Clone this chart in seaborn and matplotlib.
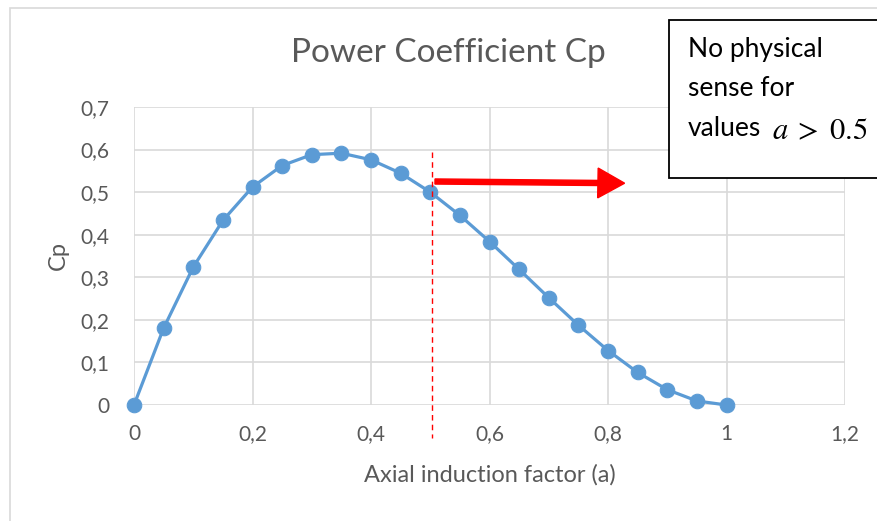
import matplotlib
matplotlib.use("Agg")
import matplotlib.pyplot as plt
from matplotlib.patches import Rectangle, FancyArrow
import seaborn as sns
import pandas as pd

# Axial induction factor and the corresponding power coefficient
a_values = [0.0, 0.05, 0.10, 0.15, 0.20, 0.25, 0.30, 0.35, 0.40, 0.45, 0.50,
            0.55, 0.60, 0.65, 0.70, 0.75, 0.80, 0.85, 0.90, 0.95, 1.0]
cp_values = [0.0, 0.1805, 0.324, 0.4335, 0.512, 0.5625, 0.588, 0.5915, 0.576,
             0.5445, 0.500, 0.4455, 0.384, 0.3185, 0.252, 0.1875, 0.128,
             0.0765, 0.036, 0.0095, 0.0]
x_ticks = [0, 0.2, 0.4, 0.6, 0.8, 1.0, 1.2]
x_tick_labels = ["0", "0,2", "0,4", "0,6", "0,8", "1", "1,2"]
y_ticks = [0, 0.1, 0.2, 0.3, 0.4, 0.5, 0.6, 0.7]
y_tick_labels = ["0", "0,1", "0,2", "0,3", "0,4", "0,5", "0,6", "0,7"]
limit_a = 0.503

sns.set_theme(style="white")
plt.rcParams["font.family"] = ["Lato", "DejaVu Sans"]
plt.rcParams["mathtext.fontset"] = "stix"

df = pd.DataFrame({"a": a_values, "Cp": cp_values})

fig = plt.figure(figsize=(8.77, 5.21), dpi=100)
ax = fig.add_axes([134 / 877, 1 - 405 / 521, (845 - 134) / 877, (405 - 107) / 521])

# chart border
fig.patches.append(Rectangle((10 / 877, -0.05), 1.0, 1 - 8 / 521 + 0.05,
                             transform=fig.transFigure, fill=False,
                             edgecolor="#d9d9d9", linewidth=1.2, zorder=0))

blue = "#5b9bd5"
sns.lineplot(data=df, x="a", y="Cp", ax=ax, color=blue, linewidth=2.3,
             marker="o", markersize=10.5, markeredgecolor=blue,
             markerfacecolor=blue, clip_on=False, zorder=3)

ax.set_xlim(0, 1.2)
ax.set_ylim(0, 0.7)
ax.set_xticks(x_ticks)
ax.set_xticklabels(x_tick_labels)
ax.set_yticks(y_ticks)
ax.set_yticklabels(y_tick_labels)
ax.tick_params(axis="x", length=0, labelsize=15, colors="#595959", pad=14)
ax.tick_params(axis="y", length=0, labelsize=15, colors="#595959", pad=18)
ax.grid(True, color="#d9d9d9", linewidth=1.2)
ax.set_axisbelow(True)
for s in ax.spines.values():
    s.set_visible(False)

ax.set_xlabel("Axial induction factor (a)", fontsize=17, color="#595959", labelpad=14)
ax.set_ylabel("Cp", fontsize=17, color="#595959", labelpad=8)

fig.text(0.511, 1 - 53 / 521, "Power Coefficient Cp", ha="center", va="center",
         fontsize=24, color="#595959")

# boundary of the physically meaningful region
ax.plot([limit_a, limit_a], [0.595, -0.077], color="red", linestyle=(0, (4, 3)),
        linewidth=1.0, clip_on=False, zorder=4)
ax.add_patch(FancyArrow(0.508, 0.525, 0.32, -0.004, width=0.012,
                        head_width=0.07, head_length=0.045,
                        length_includes_head=True, color="red", zorder=5))

# annotation box
fig.patches.append(Rectangle((669 / 877, 1 - 178 / 521), 0.3, 158 / 521,
                             transform=fig.transFigure, facecolor="white",
                             edgecolor="black", linewidth=1.3, zorder=6))
fig.text(688 / 877, 1 - 50 / 521, "No physical", fontsize=19, color="black",
         va="center", ha="left", zorder=7)
fig.text(688 / 877, 1 - 89 / 521, "sense for", fontsize=19, color="black",
         va="center", ha="left", zorder=7)
fig.text(688 / 877, 1 - 129 / 521, "values", fontsize=19, color="black",
         va="center", ha="left", zorder=7)
fig.text(772 / 877, 1 - 130 / 521, r"$a\;>\;0.5$", fontsize=22, color="black",
         va="center", ha="left", zorder=7)

fig.savefig("out.png", dpi=100)
